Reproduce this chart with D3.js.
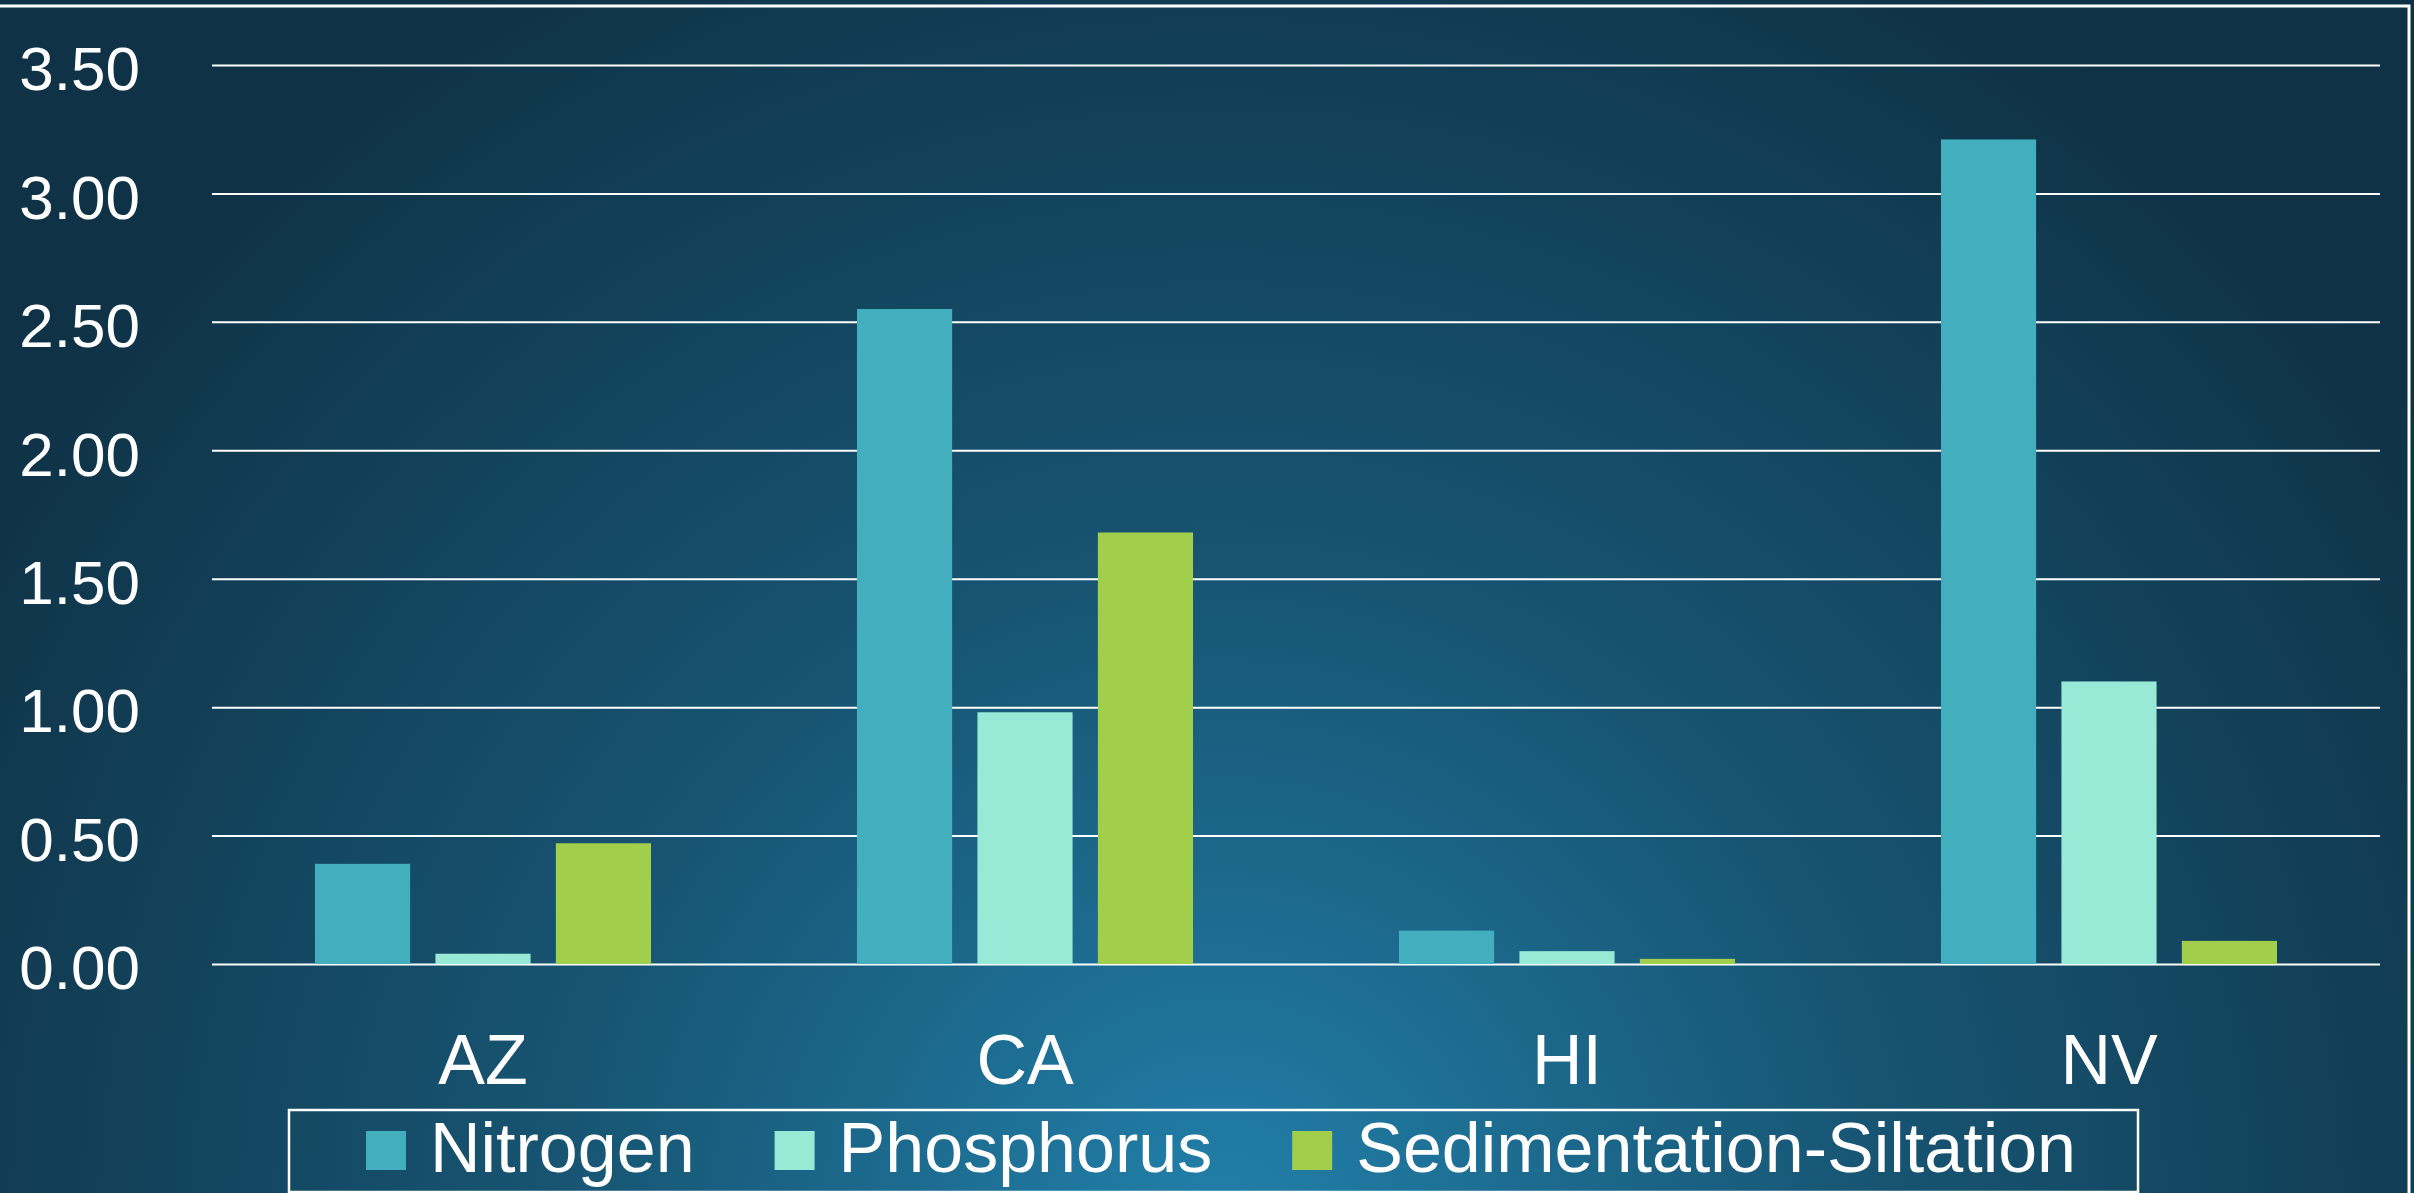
<!DOCTYPE html>
<html>
<head>
<meta charset="utf-8">
<script src="https://cdn.jsdelivr.net/npm/d3@7"></script>
<style>
    body { margin: 0; background: #10354a; }
    svg { display: block; }
</style>
</head>
<body>
<div id="chart"></div>
<script>
const categories = ["AZ", "CA", "HI", "NV"];
const seriesNames = ["Nitrogen", "Phosphorus", "Sedimentation-Siltation"];
const nitrogen = [0.39, 2.55, 0.13, 3.21];
const phosphorus = [0.04, 0.98, 0.05, 1.10];
const sedimentation = [0.47, 1.68, 0.02, 0.09];
const yTicks = [0, 0.5, 1, 1.5, 2, 2.5, 3, 3.5];

const colors = ["#42aebe", "#99e9d7", "#a2cf4b"];
const seriesValues = [nitrogen, phosphorus, sedimentation];

const chart = {
    width: 2414,
    height: 1193,
    left: 212,
    right: 2380,
    top: 65,
    bottom: 964,
    font: "'Liberation Sans', Arial, sans-serif",
    plot: function() {
        const svg = d3.select("#chart")
            .append("svg")
            .attr("width", this.width)
            .attr("height", this.height);

        // background
        const defs = svg.append("defs");
        const grad = defs.append("radialGradient")
            .attr("id", "bg")
            .attr("gradientUnits", "userSpaceOnUse")
            .attr("cx", 1220)
            .attr("cy", 1230)
            .attr("r", 1450);
        grad.append("stop").attr("offset", "0%").attr("stop-color", "#2280aa");
        grad.append("stop").attr("offset", "45%").attr("stop-color", "#175573");
        grad.append("stop").attr("offset", "100%").attr("stop-color", "#0f3246");

        svg.append("rect")
            .attr("width", this.width)
            .attr("height", this.height)
            .attr("fill", "url(#bg)");

        // outer frame
        svg.append("rect")
            .attr("x", -10)
            .attr("y", 6)
            .attr("width", 2419)
            .attr("height", this.height + 20)
            .attr("fill", "none")
            .attr("stroke", "#ffffff")
            .attr("stroke-width", 3);

        let x0 = d3.scaleBand()
            .domain(categories)
            .range([this.left, this.right])
            .paddingInner(0.38)
            .paddingOuter(0.19);

        let x1 = d3.scaleBand()
            .domain(seriesNames)
            .range([0, x0.bandwidth()])
            .paddingInner(0.21);

        let yScale = d3.scaleLinear()
            .domain([0, 3.5])
            .range([this.bottom, this.top]);

        // gridlines
        svg.append("g")
            .attr("transform", `translate(${this.right}, 0)`)
            .call(d3.axisRight(yScale).tickValues(yTicks).tickSize(-(this.right - this.left)).tickFormat(""))
            .call(g => g.select(".domain").remove())
            .call(g => g.selectAll("line").attr("stroke", "#ffffff").attr("stroke-width", 2));

        // y labels
        let yAxis = d3.axisLeft(yScale)
            .tickValues(yTicks)
            .tickSize(0)
            .tickPadding(0)
            .tickFormat(d3.format(".2f"));

        svg.append("g")
            .attr("transform", "translate(140, 0)")
            .call(yAxis)
            .call(g => g.select(".domain").remove())
            .call(g => g.selectAll("text")
                .attr("fill", "#ffffff")
                .attr("dy", "0.4em")
                .style("font-family", this.font)
                .style("font-size", "62px"));

        // bars
        const rows = categories.map((c, i) => ({
            category: c,
            values: seriesNames.map((s, j) => ({ series: s, value: seriesValues[j][i], color: colors[j] }))
        }));

        svg.append("g")
            .selectAll("g")
            .data(rows)
            .enter()
            .append("g")
            .attr("transform", d => `translate(${x0(d.category)}, 0)`)
            .selectAll("rect")
            .data(d => d.values)
            .enter()
            .append("rect")
            .attr("x", d => x1(d.series))
            .attr("y", d => yScale(d.value))
            .attr("width", x1.bandwidth())
            .attr("height", d => this.bottom - yScale(d.value))
            .attr("fill", d => d.color);

        // category labels
        let xAxis = d3.axisBottom(x0).tickSize(0).tickPadding(0);

        svg.append("g")
            .attr("transform", "translate(0, 1084)")
            .call(xAxis)
            .call(g => g.select(".domain").remove())
            .call(g => g.selectAll("text")
                .attr("fill", "#ffffff")
                .attr("y", 0)
                .attr("dy", 0)
                .style("font-family", this.font)
                .style("font-size", "70px"));

        // legend
        const legend = svg.append("g");

        legend.append("rect")
            .attr("x", 289)
            .attr("y", 1110)
            .attr("width", 1849)
            .attr("height", 82)
            .attr("fill", "none")
            .attr("stroke", "#ffffff")
            .attr("stroke-width", 2.5);

        let lx = 366;
        seriesNames.forEach((name, i) => {
            legend.append("rect")
                .attr("x", lx)
                .attr("y", 1131)
                .attr("width", 40)
                .attr("height", 39)
                .attr("fill", colors[i]);
            const t = legend.append("text")
                .attr("x", lx + 64)
                .attr("y", 1172)
                .attr("fill", "#ffffff")
                .style("font-family", this.font)
                .style("font-size", "70px")
                .text(name);
            lx += 64 + t.node().getComputedTextLength() + 80;
        });
    }
};

chart.plot();
</script>
</body>
</html>
